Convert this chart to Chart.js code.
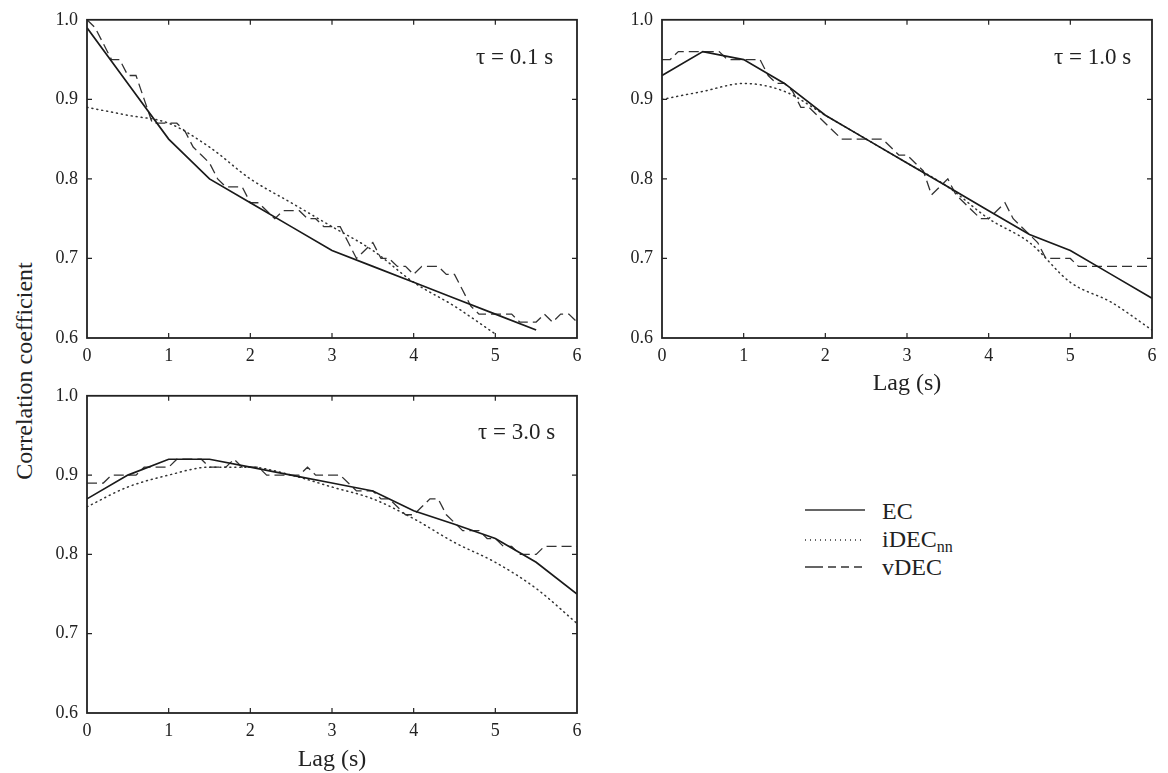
<!DOCTYPE html>
<html><head><meta charset="utf-8">
<script src="https://cdn.jsdelivr.net/npm/chart.js@4"></script>
<style>
body{margin:0;background:#fff;width:1168px;height:773px;overflow:hidden;position:relative;font-family:"Liberation Serif","Times New Roman",serif;color:#222}
.cv{position:absolute}
.tau{position:absolute;font-size:23px;line-height:24px;white-space:nowrap}
.ytitle{position:absolute;left:24px;top:371px;font-size:24px;white-space:nowrap;transform:translate(-50%,-50%) rotate(-90deg)}
.lg{position:absolute;font-size:24px;line-height:24px;white-space:nowrap}
.lg sub{font-size:16px;vertical-align:-5px}
</style></head><body>
<div class="cv" style="left:40px;top:0px"><canvas id="c1" width="550" height="370"></canvas></div>
<div class="cv" style="left:615px;top:0px"><canvas id="c2" width="553" height="398"></canvas></div>
<div class="cv" style="left:40px;top:376px"><canvas id="c3" width="550" height="398"></canvas></div>
<div class="tau" style="left:476px;top:45px">τ = 0.1 s</div>
<div class="tau" style="left:1054px;top:45px">τ = 1.0 s</div>
<div class="tau" style="left:478px;top:420px">τ = 3.0 s</div>
<div class="ytitle">Correlation coefficient</div>
<svg style="position:absolute;left:800px;top:495px" width="80" height="90">
<line x1="5" y1="15" x2="65" y2="15" stroke="#333" stroke-width="1.6"/>
<line x1="5" y1="45" x2="65" y2="45" stroke="#333" stroke-width="1.4" stroke-dasharray="1,4"/>
<line x1="5" y1="72" x2="65" y2="72" stroke="#333" stroke-width="1.4" stroke-dasharray="18,5,8,5,8,5,8"/>
</svg>
<div class="lg" style="left:882px;top:499px">EC</div>
<div class="lg" style="left:882px;top:527px">iDEC<sub>nn</sub></div>
<div class="lg" style="left:882px;top:555px">vDEC</div>
<script>
// ---- data ----
const lagsCoarse = [0,0.5,1,1.5,2,2.5,3,3.5,4,4.5,5,5.5,6];
const lagsFine = [0,0.1,0.2,0.3,0.4,0.5,0.6,0.7,0.8,0.9,1,1.1,1.2,1.3,1.4,1.5,1.6,1.7,1.8,1.9,2,2.1,2.2,2.3,2.4,2.5,2.6,2.7,2.8,2.9,3,3.1,3.2,3.3,3.4,3.5,3.6,3.7,3.8,3.9,4,4.1,4.2,4.3,4.4,4.5,4.6,4.7,4.8,4.9,5,5.1,5.2,5.3,5.4,5.5,5.6,5.7,5.8,5.9,6];
const xTickLabels = ['0','1','2','3','4','5','6'];
const yTickLabels = ['0.6','0.7','0.8','0.9','1.0'];
const seriesNames = ['EC','iDECnn','vDEC'];

// tau = 0.1 s
const ec01   = [0.99,0.92,0.85,0.80,0.77,0.74,0.71,0.69,0.67,0.65,0.63,0.61,null];
const idec01 = [0.89,0.88,0.87,0.84,0.80,0.77,0.74,0.71,0.67,0.64,0.605,null,null];
const vdec01 = [1.00,0.99,0.97,0.95,0.95,0.93,0.93,0.90,0.87,0.87,0.87,0.87,0.86,0.84,0.83,0.82,0.80,0.79,0.79,0.79,0.77,0.77,0.76,0.75,0.76,0.76,0.76,0.75,0.75,0.74,0.74,0.74,0.72,0.70,0.71,0.72,0.70,0.70,0.69,0.69,0.68,0.69,0.69,0.69,0.68,0.68,0.66,0.64,0.63,0.63,0.63,0.63,0.63,0.62,0.62,0.62,0.63,0.62,0.63,0.63,0.62];

// tau = 1.0 s
const ec10   = [0.93,0.96,0.95,0.92,0.88,0.85,0.82,0.79,0.76,0.73,0.71,0.68,0.65];
const idec10 = [0.90,0.91,0.92,0.91,0.88,0.85,0.82,0.79,0.75,0.72,0.67,0.645,0.61];
const vdec10 = [0.95,0.95,0.96,0.96,0.96,0.96,0.96,0.96,0.95,0.95,0.95,0.95,0.95,0.93,0.92,0.92,0.91,0.89,0.89,0.88,0.87,0.86,0.85,0.85,0.85,0.85,0.85,0.85,0.84,0.83,0.83,0.82,0.81,0.78,0.79,0.80,0.78,0.77,0.76,0.75,0.75,0.76,0.77,0.75,0.74,0.73,0.72,0.70,0.70,0.70,0.70,0.69,0.69,0.69,0.69,0.69,0.69,0.69,0.69,0.69,0.69];

// tau = 3.0 s
const ec30   = [0.87,0.90,0.92,0.92,0.91,0.90,0.89,0.88,0.855,0.838,0.82,0.79,0.75];
const idec30 = [0.86,0.885,0.90,0.91,0.91,0.90,0.885,0.87,0.845,0.815,0.79,0.757,0.713];
const vdec30 = [0.89,0.89,0.89,0.90,0.90,0.90,0.90,0.91,0.91,0.91,0.91,0.92,0.92,0.92,0.92,0.91,0.91,0.91,0.92,0.91,0.91,0.91,0.90,0.90,0.90,0.90,0.90,0.91,0.90,0.90,0.90,0.90,0.89,0.88,0.88,0.88,0.87,0.87,0.86,0.85,0.85,0.86,0.87,0.87,0.85,0.84,0.83,0.83,0.83,0.82,0.82,0.81,0.81,0.80,0.80,0.80,0.81,0.81,0.81,0.81,0.81];

// ---- chart building ----
const FONT = '"Liberation Serif","Times New Roman",serif';
const INK = '#222';
function pts(xs, ys){ const o=[]; xs.forEach((x,i)=>{ if(ys[i]!==null&&ys[i]!==undefined) o.push({x:x,y:ys[i]}); }); return o; }

const framePlugin = {
  id:'frame',
  afterDatasetsDraw(chart){
    const {ctx, chartArea:a, scales:{x,y}} = chart;
    ctx.save();
    ctx.strokeStyle = INK;
    ctx.lineWidth = 1.8;
    ctx.strokeRect(a.left, a.top, a.right-a.left, a.bottom-a.top);
    ctx.lineWidth = 1.2;
    ctx.beginPath();
    x.ticks.forEach(t=>{ const p=x.getPixelForValue(t.value); if(p<=a.left+1||p>=a.right-1) return;
      ctx.moveTo(p,a.bottom); ctx.lineTo(p,a.bottom-5); ctx.moveTo(p,a.top); ctx.lineTo(p,a.top+5); });
    y.ticks.forEach(t=>{ const p=y.getPixelForValue(t.value); if(p<=a.top+1||p>=a.bottom-1) return;
      ctx.moveTo(a.left,p); ctx.lineTo(a.left+5,p); ctx.moveTo(a.right,p); ctx.lineTo(a.right-5,p); });
    ctx.stroke();
    ctx.restore();
  }
};

function build(id, ec, idec, vdec, showTitle, xH, padRight){
  new Chart(document.getElementById(id), {
    type:'line',
    data:{datasets:[
      {label:seriesNames[0], data:pts(lagsCoarse,ec), borderColor:'#1a1a1a', borderWidth:1.7, pointRadius:0, tension:0, fill:false},
      {label:seriesNames[1], data:pts(lagsCoarse,idec), borderColor:'#333', borderWidth:1.5, borderDash:[1,4], borderCapStyle:'round', pointRadius:0, cubicInterpolationMode:'monotone', fill:false},
      {label:seriesNames[2], data:pts(lagsFine,vdec), borderColor:'#333', borderWidth:1.3, borderDash:[10,5], pointRadius:0, tension:0, fill:false}
    ]},
    options:{
      responsive:false, animation:false, devicePixelRatio:1,
      layout:{padding:{top:18,right:padRight,left:0,bottom:0}},
      plugins:{legend:{display:false}, tooltip:{enabled:false}},
      scales:{
        x:{type:'linear', min:0, max:6,
           ticks:{stepSize:1, padding:7, autoSkip:false, maxRotation:0, color:INK, font:{family:FONT,size:18},
                  callback:(v)=>xTickLabels[Math.round(v)]},
           grid:{display:false, drawTicks:false}, border:{display:false},
           title:{display:showTitle, text:'Lag (s)', color:INK, font:{family:FONT,size:24}, padding:{top:0,bottom:0}},
           afterFit(s){ s.height = xH; }},
        y:{type:'linear', min:0.6, max:1.0,
           ticks:{stepSize:0.1, padding:9, color:INK, font:{family:FONT,size:18},
                  callback:(v)=>yTickLabels[Math.round((v-0.6)*10)]},
           grid:{display:false, drawTicks:false}, border:{display:false},
           afterFit(s){ s.width = 47; }}
      }
    },
    plugins:[framePlugin]
  });
}
build('c1', ec01, idec01, vdec01, false, 32, 13);
build('c2', ec10, idec10, vdec10, true, 60, 16);
build('c3', ec30, idec30, vdec30, true, 61, 13);
</script>
</body></html>
